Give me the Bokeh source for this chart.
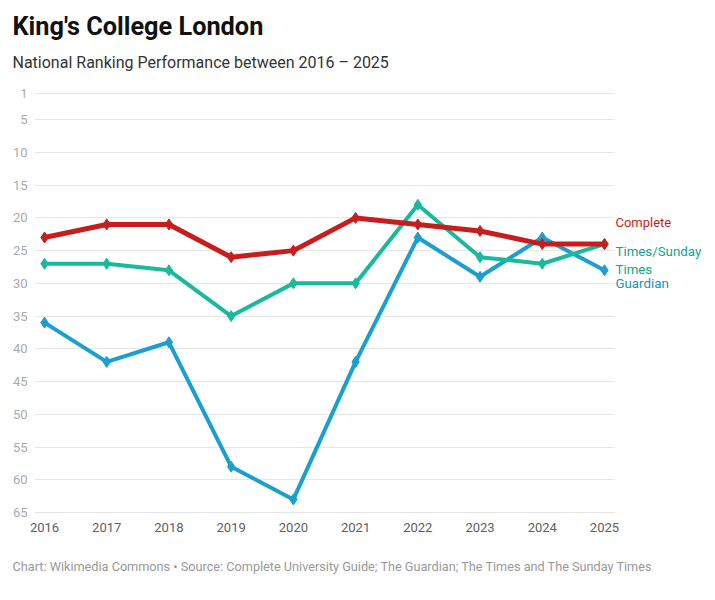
from bokeh.plotting import figure
from bokeh.models import Range1d, FixedTicker, Label, Title, BoxAnnotation
from bokeh.embed import file_html
from bokeh.resources import INLINE

years = [2016, 2017, 2018, 2019, 2020, 2021, 2022, 2023, 2024, 2025]
complete = [23, 21, 21, 26, 25, 20, 21, 22, 24, 24]
times = [27, 27, 28, 35, 30, 30, 18, 26, 27, 24]
guardian = [36, 42, 39, 58, 63, 42, 23, 29, 23, 28]
y_ticks = [1, 5, 10, 15, 20, 25, 30, 35, 40, 45, 50, 55, 60, 65]

RED = "#c71e1d"
TEAL = "#18b99c"
BLUE = "#1a9fce"
FONT = "Roboto"

W, H = 715, 600
# frame: x 34..715 px, y 90..515 px
PX_PER_YEAR = 62.22
X0 = 2016 - 10 / PX_PER_YEAR
X1 = 2016 + (715 - 44) / PX_PER_YEAR
PLOT_END = 2025 + 10 / PX_PER_YEAR   # right edge of the visible plot area
PX_PER_RANK = 6.547
Y_TOP = 1 - 3 / PX_PER_RANK
Y_BOT = 65 + 3 / PX_PER_RANK

p = figure(width=W, height=H, output_backend="svg", toolbar_location=None,
           title=None,
           x_range=Range1d(X0, X1), y_range=Range1d(Y_BOT, Y_TOP),
           min_border_left=34, min_border_right=0, min_border_top=90,
           min_border_bottom=85)
p.outline_line_color = None
p.background_fill_color = "white"
p.border_fill_color = "white"

p.xgrid.visible = False
p.ygrid.grid_line_color = "#e6e6e6"
p.ygrid.grid_line_width = 1

# white cover hiding grid lines right of the plot area (label gutter)
p.add_layout(BoxAnnotation(left=PLOT_END, fill_color="white", fill_alpha=1,
                           line_color=None, level="underlay"))

p.yaxis.ticker = FixedTicker(ticks=y_ticks)
p.xaxis.ticker = FixedTicker(ticks=years)
for ax in (p.xaxis[0], p.yaxis[0]):
    ax.axis_line_color = None
    ax.major_tick_line_color = None
    ax.minor_tick_line_color = None
    ax.major_tick_out = 0
    ax.major_tick_in = 0
    ax.major_label_text_font = FONT
    ax.major_label_text_font_size = "13px"
p.yaxis.major_label_text_color = "#aaaaaa"
p.yaxis.major_label_standoff = 7
p.xaxis.major_label_text_color = "#606060"
p.xaxis.major_label_standoff = 7

for vals, col, lw in ((guardian, BLUE, 4), (times, TEAL, 4), (complete, RED, 5)):
    p.line(years, vals, line_color=col, line_width=lw, line_join="round")
    p.scatter(years, vals, marker="diamond", size=11, fill_color=col, line_color=col)

# end labels
p.add_layout(Label(x=PLOT_END, y=20.7, x_offset=1, text="Complete", text_color=RED,
                   text_font=FONT, text_font_size="13px", text_baseline="middle"))
p.add_layout(Label(x=PLOT_END, y=26.5, x_offset=1, text="Times/Sunday\nTimes", text_color="#10a58b",
                   text_font=FONT, text_font_size="13.3px", text_baseline="middle"))
p.add_layout(Label(x=PLOT_END, y=30.0, x_offset=1, text="Guardian", text_color="#1991c2",
                   text_font=FONT, text_font_size="13.3px", text_baseline="middle"))

# titles (first added sits closest to the plot)
p.add_layout(Title(text="National Ranking Performance between 2016 – 2025", text_font=FONT,
                   text_font_size="16px", text_font_style="normal", text_color="#333333",
                   align="left", offset=-22, standoff=38), "above")
p.add_layout(Title(text="King's College London", text_font=FONT, text_font_size="25.3px",
                   text_font_style="bold", text_color="#111111",
                   align="left", offset=-22, standoff=-18), "above")
p.add_layout(Title(text="Chart: Wikimedia Commons • Source: Complete University Guide; The Guardian; The Times and The Sunday Times",
                   text_font=FONT, text_font_size="12.7px", text_font_style="normal",
                   text_color="#999999", align="left", offset=-22, standoff=44), "below")

open("out.html", "w").write(file_html(p, INLINE))
